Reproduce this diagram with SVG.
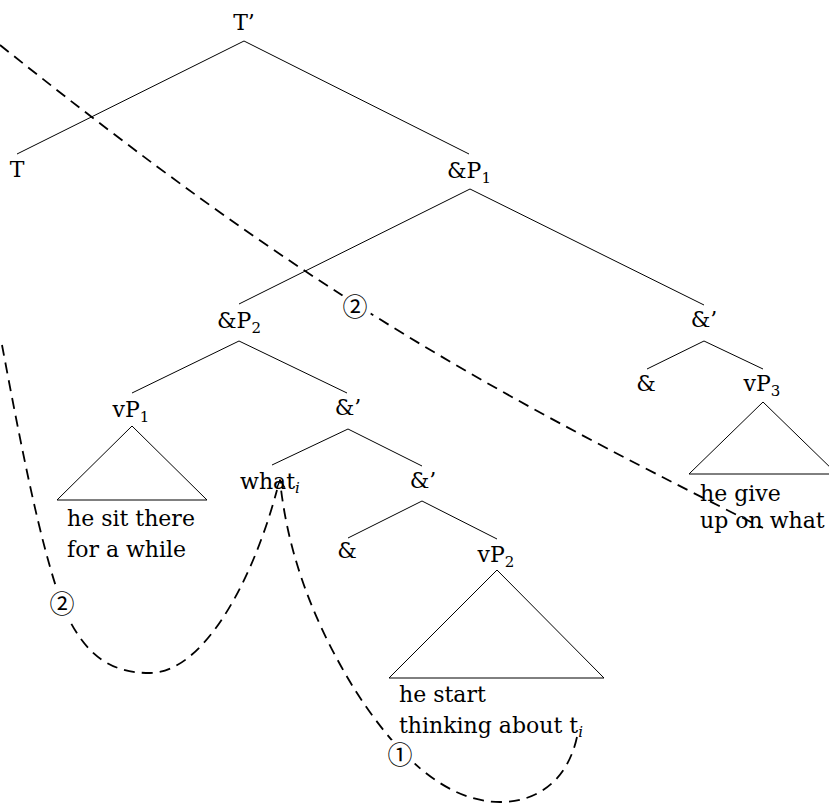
<svg xmlns="http://www.w3.org/2000/svg" width="829" height="803" viewBox="0 0 829 803">
<defs>
<style>
text{font-family:"DejaVu Serif","Liberation Serif",serif;font-size:22px;fill:#000}
.sub{font-size:15px}
.it{font-style:italic}
.mid{text-anchor:middle}
.edge{stroke:#000;stroke-width:1;fill:none}
.tri{stroke:#000;stroke-width:1;fill:none}
.mv{stroke:#000;stroke-width:1.8;fill:none;stroke-dasharray:11 7}
.num{font-family:"Noto Sans CJK JP","DejaVu Sans",sans-serif;font-size:25px;text-anchor:middle}
</style>
<marker id="arr" viewBox="0 0 10 10" refX="9" refY="5" markerWidth="10" markerHeight="10" markerUnits="userSpaceOnUse" orient="auto">
<path d="M1,1 L9,5 L1,9" fill="none" stroke="#000" stroke-width="1.4"/>
</marker>
</defs>
<rect width="829" height="803" fill="#fff"/>
<g id="connectors">
<path class="edge" d="M244,41 L17,154 M244,41 L469,154"/>
<path class="edge" d="M470,189 L239,304 M470,189 L704,305"/>
<path class="edge" d="M239,341 L132,393 M239,341 L347,393"/>
<path class="edge" d="M704,341 L647,369 M704,341 L763,369"/>
<path class="edge" d="M348,429 L272,465 M348,429 L422,466"/>
<path class="edge" d="M422,501 L348,538 M422,501 L497,539"/>
<path class="mv" d="M0,45 C300,285 463,378 763,528"/>
<path class="mv" d="M2,345 C20,440 40,545 62,604 C85,660 115,673 150,673 C200,673 250,590 277,490"/>
<path class="mv" marker-end="url(#arr)" d="M577,737 C568,778 540,802 500,802 C440,802 390,745 355,690 C318,630 288,560 280,480"/>
</g>
<g id="label-step2-top"><circle cx="355" cy="307" r="17" fill="#fff"/><text class="num" x="355" y="316">②</text></g>
<g id="label-step2-left"><circle cx="62" cy="604" r="17" fill="#fff"/><text class="num" x="62" y="613">②</text></g>
<g id="label-step1"><circle cx="400" cy="755" r="17" fill="#fff"/><text class="num" x="400" y="764">①</text></g>
<g id="n-Tbar"><text class="mid" x="244" y="30">T’</text></g>
<g id="n-T"><text class="mid" x="17" y="177">T</text></g>
<g id="n-andP1"><text class="mid" x="469" y="178">&amp;P<tspan class="sub" dy="5">1</tspan></text></g>
<g id="n-andP2"><text class="mid" x="239" y="328">&amp;P<tspan class="sub" dy="5">2</tspan></text></g>
<g id="n-andbar-right"><text class="mid" x="704" y="327">&amp;’</text></g>
<g id="n-and-right"><text class="mid" x="646" y="391">&amp;</text></g>
<g id="n-vP3"><text class="mid" x="762" y="391">vP<tspan class="sub" dy="5">3</tspan></text>
<path class="tri" d="M763,402 L689,474 L837,474 Z"/>
<text x="700" y="501">he give</text><text x="700" y="528">up on what</text></g>
<g id="n-vP1"><text class="mid" x="131" y="417">vP<tspan class="sub" dy="5">1</tspan></text>
<path class="tri" d="M132,426 L57,500 L207,500 Z"/>
<text x="67" y="526">he sit there</text><text x="67" y="557">for a while</text></g>
<g id="n-andbar-mid"><text class="mid" x="348" y="415">&amp;’</text></g>
<g id="n-what"><text class="mid" x="270" y="489">what<tspan class="sub it" dy="4">i</tspan></text></g>
<g id="n-andbar-low"><text class="mid" x="423" y="488">&amp;’</text></g>
<g id="n-and-low"><text class="mid" x="347" y="558">&amp;</text></g>
<g id="n-vP2"><text class="mid" x="496" y="562">vP<tspan class="sub" dy="5">2</tspan></text>
<path class="tri" d="M497,570 L389,678 L604,678 Z"/>
<text x="399" y="702">he start</text><text x="399" y="733">thinking about t<tspan class="sub it" dy="4">i</tspan></text></g>
</svg>
